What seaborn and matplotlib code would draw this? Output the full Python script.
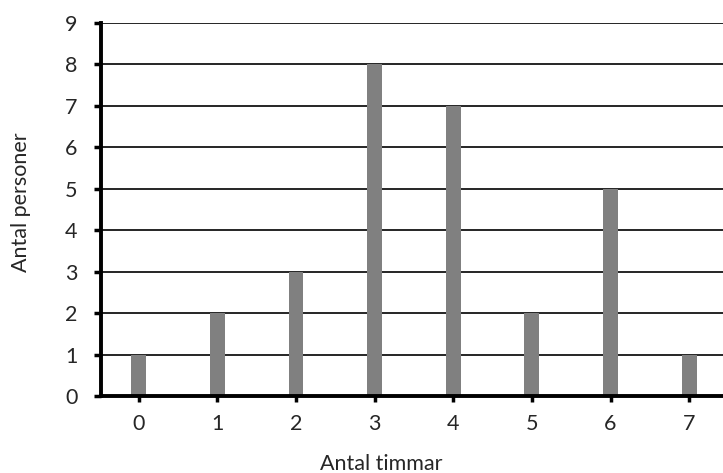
import pandas as pd
import seaborn as sns
import matplotlib.pyplot as plt

# data
timmar = ["0", "1", "2", "3", "4", "5", "6", "7"]
personer = [1, 2, 3, 8, 7, 2, 5, 1]

df = pd.DataFrame({"timmar": timmar, "personer": personer})

sns.set_style("white")
plt.rcParams["font.family"] = ["Lato", "DejaVu Sans"]

fig = plt.figure(figsize=(7.23, 4.73), dpi=100)
ax = fig.add_axes([0.1397, 0.1628, 0.8603, 0.7886])

sns.barplot(data=df, x="timmar", y="personer", color="#808080", saturation=1,
            width=0.19, linewidth=0, ax=ax, zorder=3)

ax.set_xlim(-0.48, 7.43)
ax.set_ylim(0, 9)
ax.set_yticks(range(0, 10))
ax.yaxis.grid(True, color="black", linewidth=1.2, zorder=1)
ax.set_axisbelow(True)

for s in ["top", "right"]:
    ax.spines[s].set_visible(False)
for s in ["left", "bottom"]:
    ax.spines[s].set_linewidth(2.8)
    ax.spines[s].set_color("black")
    ax.spines[s].set_zorder(4)

ax.tick_params(axis="y", direction="out", length=5, width=2.5, color="black",
               labelsize=15.5, pad=12, left=True)
ax.tick_params(axis="x", direction="out", length=4, width=2.5, color="black",
               labelsize=15.5, pad=9, bottom=True)
ax.set_xlabel("Antal timmar", fontsize=15.5)
ax.set_ylabel("Antal personer", fontsize=15.5)
ax.xaxis.set_label_coords(0.45, -0.155)
ax.yaxis.set_label_coords(-0.113, 0.52)

fig.savefig("out.png", dpi=100)
